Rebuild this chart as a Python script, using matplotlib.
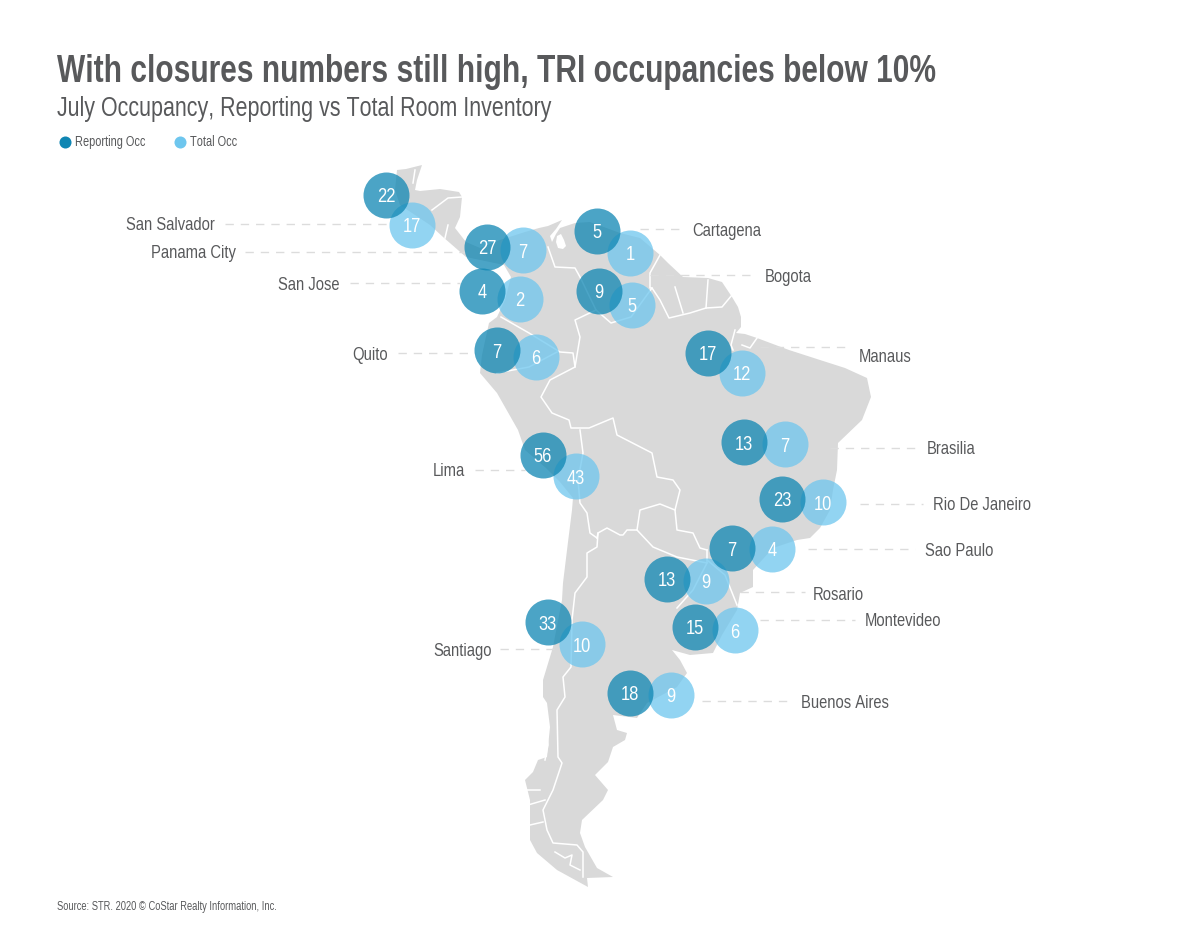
#!/usr/bin/env python3
# South America occupancy map, everything is placed in image pixels
import os
import tempfile
import matplotlib
matplotlib.use('Agg')
import matplotlib.pyplot as plt
from matplotlib import font_manager as fm
from fontTools.ttLib import TTFont

GREY = '#58595b'
DARK = '#0f86b3'
LIGHT = '#6ec6ee'
LAND = '#d9d9d9'

# values
cities = ['San Salvador', 'Panama City', 'San Jose', 'Quito', 'Lima', 'Santiago',
          'Cartagena', 'Bogota', 'Manaus', 'Brasilia', 'Rio De Janeiro', 'Sao Paulo',
          'Rosario', 'Montevideo', 'Buenos Aires']
reporting_occ = [22, 27, 4, 7, 56, 33, 5, 9, 17, 13, 23, 7, 13, 15, 18]
total_occ = [17, 7, 2, 6, 43, 10, 1, 5, 12, 7, 10, 4, 9, 6, 9]

# bubble centres
reporting_x = [386, 487, 482, 497, 543, 548, 597, 599, 708, 744, 782, 732, 667, 695, 630]
reporting_y = [195, 247, 291, 350, 455, 622, 231, 291, 353, 442, 499, 548, 579, 627, 693]
total_x = [412, 523, 520, 536, 576, 582, 630, 632, 742, 785, 823, 772, 706, 735, 671]
total_y = [225, 250, 299, 357, 476, 644, 253, 305, 373, 444, 502, 549, 581, 630, 695]

# city labels and their leader lines
label_x = [215, 236, 339, 388, 465, 492, 692, 765, 859, 927, 933, 925, 813, 865, 801]
label_y = [226, 254, 285, 355, 472, 651, 231, 277, 358, 450, 506, 551, 595, 622, 703]
leader_start = [225, 245, 350, 398, 475, 500, 640, 650, 760, 830, 860, 808, 740, 760, 702]
leader_end = [388, 470, 460, 475, 525, 558, 682, 755, 850, 917, 923, 915, 805, 855, 790]
leader_y = [224, 252, 283, 353, 470, 649, 229, 275, 347, 448, 504, 549, 592, 620, 701]

# outline of the continent
land_x = [422, 417, 415, 420, 440, 459, 462, 460, 455, 466, 480, 500, 525, 539, 548, 562,
          556, 550, 552, 556, 560, 575, 590, 620, 640, 660, 668, 683, 708, 722, 732, 738,
          741, 741, 736, 745, 757, 789, 820, 845, 867, 871, 862, 838, 837, 833, 830, 820,
          810, 797, 773, 753, 753, 740, 737, 722, 713, 690, 672, 680, 687, 677, 647, 637,
          613, 617, 627, 625, 613, 608, 595, 608, 603, 582, 580, 585, 597, 613, 587, 588,
          557, 537, 530, 530, 530, 525, 533, 538, 547, 550, 547, 543, 543, 553, 562, 563,
          568, 572, 573, 560, 546, 525, 518, 497, 480, 482, 489, 497, 505, 511, 504, 466,
          443, 430, 400, 395, 397, 406]
land_y = [165, 180, 190, 191, 189, 192, 197, 217, 228, 242, 248, 240, 232, 228, 226, 220,
          229, 236, 242, 234, 228, 223, 222, 233, 238, 255, 263, 277, 278, 282, 297, 307,
          317, 327, 333, 334, 338, 350, 360, 368, 378, 397, 420, 443, 470, 490, 510, 528,
          538, 540, 548, 570, 587, 593, 610, 635, 653, 655, 650, 660, 673, 687, 703, 718,
          715, 730, 733, 740, 747, 762, 775, 790, 800, 820, 833, 847, 868, 877, 878, 887,
          870, 853, 840, 820, 800, 780, 772, 760, 757, 727, 703, 697, 680, 647, 600, 583,
          542, 510, 498, 482, 468, 450, 430, 393, 373, 355, 323, 317, 300, 277, 265, 257,
          237, 225, 205, 190, 170, 169]

lake_x = [557, 561, 564, 566, 563, 558, 556]
lake_y = [236, 234, 240, 246, 249, 248, 242]

# country borders, white lines over the land
borders = [
    ([415, 413], [170, 183]),
    ([432, 448, 462], [210, 198, 197]),
    ([448, 445], [225, 238]),
    # Colombia, Peru and Bolivia against Venezuela and Brazil
    ([548, 555, 575, 580, 596, 575, 580, 575, 550, 541, 552, 569, 571, 589, 613, 617, 652,
      657, 673, 680, 675, 677, 693, 700, 707],
     [247, 267, 268, 277, 310, 320, 337, 367, 380, 397, 413, 420, 428, 428, 418, 435, 453,
      477, 480, 490, 510, 530, 533, 548, 550]),
    # Venezuela, the Guianas and northern Brazil
    ([596, 611, 631, 652, 660, 669, 690, 706, 722, 732],
     [310, 323, 317, 288, 300, 318, 313, 308, 307, 295]),
    ([660, 650, 650, 652], [255, 273, 288, 288]),
    ([675, 683], [287, 313]),
    ([708, 706], [280, 308]),
    # Ecuador
    ([501, 529, 560, 573, 575], [317, 333, 352, 353, 367]),
    ([497, 529, 557], [373, 367, 352]),
    # Peru and Chile against Bolivia
    ([580, 583, 578, 580, 587, 590, 597], [430, 453, 480, 503, 513, 533, 538]),
    # Bolivia, Paraguay
    ([597, 598, 607, 620, 623, 627, 637, 640, 660, 675],
     [538, 533, 528, 535, 535, 530, 530, 510, 504, 510]),
    # Chile against Argentina
    ([598, 597, 587, 587, 575, 572, 571, 563, 565, 557, 558, 562, 553, 543, 547, 553, 577, 583, 583],
     [533, 547, 553, 577, 593, 620, 667, 677, 697, 710, 757, 763, 790, 810, 830, 843, 845, 852, 877]),
    ([637, 653, 677, 707, 707], [530, 547, 557, 563, 550]),
    ([707, 693, 677], [563, 590, 608]),
    ([707, 725, 737], [560, 575, 605]),
    # river mouth, fjords and the strait
    ([735, 731, 733], [330, 345, 350]),
    ([757, 750, 742], [338, 348, 345]),
    ([525, 540], [790, 790]),
    ([528, 545], [805, 800]),
    ([530, 543], [825, 822]),
    ([546, 548, 545], [725, 745, 760]),
    ([555, 565, 572, 570, 580], [852, 858, 855, 865, 870]),
]


def condensed_font(weight, factor):
    # no condensed face is installed, so squeeze Liberation Sans sideways
    path = fm.findfont(fm.FontProperties(family='Liberation Sans', weight=weight))
    font = TTFont(path)
    glyf = font['glyf']
    for name in font.getGlyphOrder():
        g = glyf[name]
        if g.isComposite():
            for comp in g.components:
                comp.x = int(comp.x * factor)
        elif g.numberOfContours > 0:
            g.coordinates.scale((factor, 1))
            g.coordinates.toInt()
            g.recalcBounds(glyf)
        adv, lsb = font['hmtx'][name]
        font['hmtx'][name] = (int(adv * factor), int(lsb * factor))
    for tag in ['fpgm', 'prep', 'cvt ', 'hdmx', 'VDMX', 'LTSH', 'kern', 'GPOS', 'GSUB', 'GDEF']:
        if tag in font:
            del font[tag]
    out = os.path.join(tempfile.mkdtemp(), weight + '.ttf')
    font.save(out)
    return out


regular_file = condensed_font('regular', 0.79)
bold_file = condensed_font('bold', 0.77)


def reg(size):
    return fm.FontProperties(fname=regular_file, size=size)


fig = plt.figure(figsize=(12, 9.25), dpi=100)
ax = fig.add_axes([0, 0, 1, 1])
ax.set_xlim(0, 1200)
ax.set_ylim(925, 0)
ax.axis('off')

ax.fill(land_x, land_y, color=LAND, lw=0, zorder=1)
ax.fill(lake_x, lake_y, color='white', lw=0, zorder=2)
for bx, by in borders:
    ax.plot(bx, by, color='white', lw=1.1, solid_joinstyle='round', zorder=2)

# leader lines
for x0, x1, y in zip(leader_start, leader_end, leader_y):
    ax.plot([x0, x1], [y, y], color='#dcdcdc', lw=1, dashes=(6, 5), zorder=3)

# bubbles, total first so reporting sits on top
ax.scatter(total_x, total_y, s=1097, color=LIGHT, alpha=0.75, lw=0, zorder=4)
ax.scatter(reporting_x, reporting_y, s=1097, color=DARK, alpha=0.75, lw=0, zorder=5)

for x, y, v in zip(total_x, total_y, total_occ):
    ax.text(x, y, str(v), color='white', fontproperties=reg(15), ha='center',
            va='center_baseline', zorder=6)
for x, y, v in zip(reporting_x, reporting_y, reporting_occ):
    ax.text(x, y, str(v), color='white', fontproperties=reg(15), ha='center',
            va='center_baseline', zorder=6)

# labels left of the continent are right aligned
for i, (x, y, c) in enumerate(zip(label_x, label_y, cities)):
    ax.text(x, y, c, color=GREY, fontproperties=reg(13.5), va='center',
            ha='right' if i < 6 else 'left', zorder=6)

# title block
ax.text(57, 82, 'With closures numbers still high, TRI occupancies below 10%', color=GREY,
        fontproperties=fm.FontProperties(fname=bold_file, size=28), ha='left', va='baseline')
ax.text(57, 116, 'July Occupancy, Reporting vs Total Room Inventory', color=GREY,
        fontproperties=reg(19.5), ha='left', va='baseline')

# legend
ax.scatter([65], [142], s=75, color=DARK, lw=0)
ax.text(75, 142, 'Reporting Occ', color=GREY, fontproperties=reg(10), va='center')
ax.scatter([180], [142], s=75, color=LIGHT, lw=0)
ax.text(190, 142, 'Total Occ', color=GREY, fontproperties=reg(10), va='center')

ax.text(57, 907, 'Source: STR. 2020 \u00a9 CoStar Realty Information, Inc.', color=GREY,
        fontproperties=reg(8.6), va='center')

plt.savefig('out.png', dpi=100)
